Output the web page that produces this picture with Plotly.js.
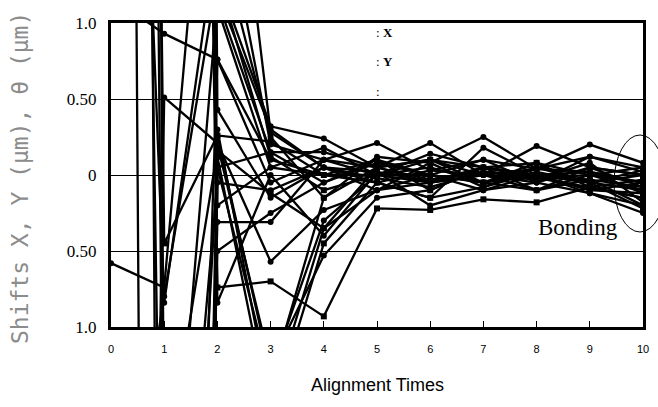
<!DOCTYPE html>
<html>
<head>
<meta charset="utf-8">
<script src="https://cdn.plot.ly/plotly-3.0.1.min.js"></script>
<style>html,body{margin:0;padding:0;background:#fff;}#chart{width:658px;height:407px;}</style>
</head>
<body>
<div id="chart"></div>
<script>
const xTimes = [0, 1, 2, 3, 4, 5, 6, 7, 8, 9, 10];
const xTickLabels = ["0","1","2","3","4","5","6","7","8","9","10"];
const yTickVals = [-1, -0.5, 0, 0.5, 1];
const yTickLabels = ["1.0", "0.50", "0", "0.50", "1.0"];

const s01 = [-0.58, -0.74, 3.2, 0.28, 0.05, 0.02, -0.04, 0.05, 0.00, -0.05, -0.10];
const s02 = [25, -25, 0.05, 0.15, -0.05, 0.08, 0.00, -0.05, 0.04, 0.02, -0.05];
const s03 = [40, -10, 0.76, -0.05, 0.10, 0.05, 0.10, 0.00, -0.05, 0.05, 0.00];
const s04 = [50, -2.0, 0.16, -0.12, -0.35, 0.05, -0.03, 0.02, -0.02, -0.08, -0.15];
const s05 = [30, 30, -0.20, 0.05, 0.18, 0.00, 0.14, 0.05, 0.08, 0.00, -0.05];
const s06 = [1.17, 0.93, 0.76, 0.10, 0.00, -0.05, 0.03, 0.10, 0.04, 0.12, 0.05];
const s07 = [-20, 0.51, 0.21, -0.57, -0.23, -0.10, -0.05, 0.00, -0.10, -0.03, -0.20];
const s08 = [30, -0.45, 0.26, 0.22, 0.00, 0.10, -0.10, 0.05, 0.00, -0.03, -0.08];
const s09 = [-3, -0.80, 1.3, 0.32, 0.24, 0.05, 0.21, 0.00, 0.19, 0.05, 0.00];
const s10 = [8, -0.84, 1.6, 0.25, -0.15, 0.12, 0.08, 0.25, 0.04, 0.20, 0.08];
const s11 = [30, 35, 1.2, 0.30, 0.05, -0.05, -0.15, 0.18, 0.00, -0.12, -0.25];
const s12 = [10, 28, -0.74, -0.70, -0.93, -0.22, -0.23, -0.16, -0.18, -0.08, -0.15];
const s13 = [25, 22, -0.84, 0.00, -0.40, 0.02, -0.20, -0.10, -0.05, -0.12, -0.20];
const s14 = [-30, -40, 0.25, -1.3, -0.30, 0.00, 0.00, -0.05, 0.00, 0.02, -0.05];
const s15 = [-12, -35, 0.20, -1.25, -0.53, -0.15, -0.10, 0.05, -0.10, 0.00, -0.10];
const s16 = [20, 18, 1.3, 0.12, -0.10, 0.00, 0.05, -0.05, 0.08, -0.08, -0.03];
const s17 = [-20, -18, 0.30, -1.5, -0.35, -0.10, 0.00, 0.10, -0.05, 0.12, 0.02];
const s18 = [20, 25, 2.0, 0.20, 0.10, 0.21, 0.03, 0.00, 0.04, 0.02, -0.12];
const s19 = [-25, -12, -0.31, -0.31, 0.10, 0.00, -0.05, 0.05, 0.00, -0.05, 0.03];
const s20 = [-8, -6, 0.05, -1.35, -0.15, 0.05, 0.10, -0.05, -0.10, 0.05, -0.08];
const s21 = [40, 45, 0.43, -0.15, 0.05, -0.10, 0.08, -0.08, 0.05, -0.05, 0.00];
const s22 = [35, -3, 1.15, 0.15, 0.15, 0.05, -0.05, 0.00, -0.03, 0.08, -0.18];
const s23 = [-40, -8, -0.50, -0.25, -0.05, 0.10, 0.00, -0.10, 0.00, -0.10, -0.05];
const s24 = [-12, -30, 0.12, -1.6, -0.45, -0.05, -0.15, -0.08, 0.02, -0.05, -0.22];
const s25 = [10, 40, 1.1, 0.05, 0.00, 0.00, 0.10, 0.05, -0.02, 0.00, 0.05];
const s26 = [18, -4, -0.05, -0.10, 0.05, -0.02, -0.08, 0.02, 0.00, -0.10, -0.12];

const allSeries = [s01,s02,s03,s04,s05,s06,s07,s08,s09,s10,s11,s12,s13,s14,s15,s16,s17,s18,s19,s20,s21,s22,s23,s24,s25,s26];

const traces = allSeries.map((ys, i) => ({
  x: xTimes,
  y: ys,
  type: 'scatter',
  mode: 'lines+markers',
  line: {color: '#000', width: 2.3},
  marker: {color: '#000', size: 6, symbol: (i % 4 === 3) ? 'square' : 'circle'},
  cliponaxis: true,
  showlegend: false,
  hoverinfo: 'skip'
}));

const layout = {
  width: 658,
  height: 407,
  margin: {l: 111, r: 15, t: 23, b: 80},
  paper_bgcolor: '#fff',
  plot_bgcolor: '#fff',
  showlegend: false,
  xaxis: {
    range: [0, 10],
    tickvals: xTimes,
    ticktext: xTickLabels,
    ticks: 'inside',
    ticklen: 6,
    tickwidth: 1,
    tickcolor: '#000',
    showgrid: false,
    zeroline: false,
    showline: true,
    linecolor: '#000',
    linewidth: 3,
    mirror: true,
    ticklabelstandoff: 10,
    tickfont: {family: 'Liberation Sans, Arial, sans-serif', size: 11, color: '#000'}
  },
  yaxis: {
    range: [-1, 1],
    tickvals: yTickVals,
    ticktext: yTickLabels,
    ticks: '',
    showgrid: true,
    gridcolor: '#000',
    gridwidth: 1,
    zeroline: false,
    showline: true,
    linecolor: '#000',
    linewidth: 3,
    mirror: true,
    ticklabelstandoff: 8,
    tickfont: {family: 'Liberation Serif, Times New Roman, serif', size: 17, color: '#000'}
  },
  shapes: [
    {type: 'circle', xref: 'paper', yref: 'paper', x0: 0.9455, x1: 1.0432, y0: 0.3125, y1: 0.6316,
     line: {color: '#000', width: 1}, fillcolor: 'rgba(0,0,0,0)'}
  ],
  annotations: [
    {xref: 'paper', yref: 'paper', x: 0.494, y: 0.970, xanchor: 'left', yanchor: 'middle', showarrow: false,
     text: ': <b>X</b>', font: {family: 'Liberation Serif, serif', size: 13, color: '#000'}},
    {xref: 'paper', yref: 'paper', x: 0.494, y: 0.872, xanchor: 'left', yanchor: 'middle', showarrow: false,
     text: ': <b>Y</b>', font: {family: 'Liberation Serif, serif', size: 13, color: '#000'}},
    {xref: 'paper', yref: 'paper', x: 0.494, y: 0.776, xanchor: 'left', yanchor: 'middle', showarrow: false,
     text: ':', font: {family: 'Liberation Serif, serif', size: 13, color: '#000'}},
    {xref: 'paper', yref: 'paper', x: 0.878, y: 0.326, xanchor: 'center', yanchor: 'middle', showarrow: false,
     text: 'Bonding', font: {family: 'Liberation Serif, serif', size: 23, color: '#000'}},
    {xref: 'paper', yref: 'paper', x: 0.5, y: -0.191, xanchor: 'center', yanchor: 'middle', showarrow: false,
     text: 'Alignment Times', font: {family: 'Liberation Sans, Arial, sans-serif', size: 18, color: '#000'}},
    {xref: 'paper', yref: 'paper', x: -0.171, y: 0.49, xanchor: 'center', yanchor: 'middle', showarrow: false,
     textangle: -90,
     text: 'Shifts X, Y (μm), θ (μm)', font: {family: 'DejaVu Sans Mono, monospace', size: 23, color: '#8c8c8c'}}
  ]
};

Plotly.newPlot('chart', traces, layout, {staticPlot: true, displayModeBar: false});
</script>
</body>
</html>
